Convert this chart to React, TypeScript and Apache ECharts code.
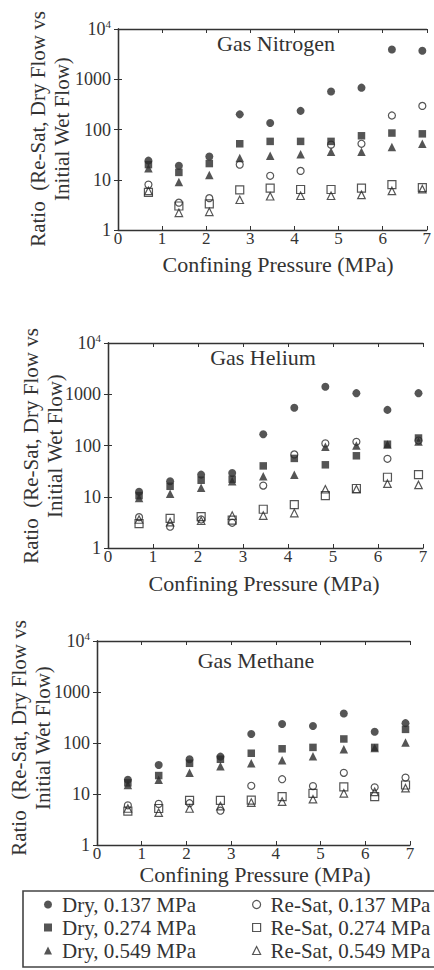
import React, { useEffect, useRef } from 'react';
import * as echarts from 'echarts';

// Confining pressure (MPa) at which the samples were measured
const pressure = [0.69, 1.38, 2.07, 2.76, 3.45, 4.14, 4.83, 5.52, 6.21, 6.9];

const seriesNames = [
  'Dry, 0.137 MPa',
  'Dry, 0.274 MPa',
  'Dry, 0.549 MPa',
  'Re-Sat, 0.137 MPa',
  'Re-Sat, 0.274 MPa',
  'Re-Sat, 0.549 MPa',
];

const gasTitles = ['Gas Nitrogen', 'Gas Helium', 'Gas Methane'];

// Gas Nitrogen
const n2Dry137 = [24, 19, 29, 200, 135, 235, 570, 680, 3900, 3700];
const n2Dry274 = [20, 14, 21, 52, 58, 58, 58, 75, 85, 82];
const n2Dry549 = [17, 9, 12.5, 27, 30, 32, 36, 36, 45, 52];
const n2Re137 = [8, 3.5, 4.3, 20, 12, 15, 50, 52, 190, 295];
const n2Re274 = [5.6, 3, 3.3, 6.3, 6.8, 6.4, 6.4, 6.8, 8, 7];
const n2Re549 = [6, 2.2, 2.3, 4, 4.7, 4.8, 4.8, 5, 6, 6.5];

// Gas Helium
const heDry137 = [12.5, 20, 27, 29, 166, 545, 1400, 1050, 495, 1050];
const heDry274 = [10.5, 16, 21, 22, 40, 56, 42, 63, 106, 140];
const heDry549 = [9.5, 11.5, 15, 20, 25, 27, 95, 100, 105, 120];
const heRe137 = [4, 2.6, 3.6, 3.1, 16.5, 67, 110, 118, 55, 125];
const heRe274 = [3, 3.8, 4.1, 3.5, 5.7, 7, 10.5, 14.5, 24, 27];
const heRe549 = [3.6, 3.2, 3.4, 4.3, 4.3, 4.8, 14, 14, 18, 17];

// Gas Methane
const ch4Dry137 = [19, 37, 48, 54, 150, 235, 215, 380, 166, 245];
const ch4Dry274 = [16.5, 23, 40, 48, 63, 77, 82, 120, 82, 185];
const ch4Dry549 = [15, 19, 26, 35, 40, 46, 55, 75, 80, 102];
const ch4Re137 = [6, 6.4, 6.6, 4.7, 14.5, 19.5, 14.3, 26, 13.5, 21];
const ch4Re274 = [4.6, 5.2, 7.5, 7.5, 7.6, 8.9, 10.3, 13.8, 8.9, 15];
const ch4Re549 = [5.2, 4.3, 5.2, 5.8, 6.8, 7.1, 7.9, 10.3, 11, 13];

const panels = [
  [n2Dry137, n2Dry274, n2Dry549, n2Re137, n2Re274, n2Re549],
  [heDry137, heDry274, heDry549, heRe137, heRe274, heRe549],
  [ch4Dry137, ch4Dry274, ch4Dry549, ch4Re137, ch4Re274, ch4Re549],
];

const xAxisTitle = 'Confining Pressure (MPa)';
const yAxisTitle = 'Ratio  (Re-Sat, Dry Flow vs\nInitial Wet Flow)';

const FONT = "'Liberation Serif', 'Times New Roman', serif";
const INK = '#333';

const grids = [
  { left: 118, top: 29, width: 310, height: 201 },
  { left: 108, top: 343, width: 315, height: 205 },
  { left: 97, top: 641, width: 313, height: 204 },
];

const titlePos = [
  { x: 276, y: 43 },
  { x: 263, y: 357 },
  { x: 256, y: 660 },
];
const xTitlePos = [
  { x: 278, y: 264 },
  { x: 264, y: 583 },
  { x: 255, y: 874 },
];
const yTitlePos = [
  { x: 50, y: 129 },
  { x: 43, y: 446 },
  { x: 31, y: 738 },
];

const markers = [
  { symbol: 'circle', size: 8, filled: true },
  { symbol: 'rect', size: 7.5, filled: true },
  { symbol: 'triangle', size: 8.5, filled: true },
  { symbol: 'circle', size: 7, filled: false },
  { symbol: 'rect', size: 8, filled: false },
  { symbol: 'triangle', size: 7.5, filled: false },
];

export default function App() {
  const ref = useRef<HTMLDivElement>(null);

  useEffect(() => {
    if (!ref.current) return;
    const chart = echarts.init(ref.current, undefined, { renderer: 'svg' });

    const xAxes: any[] = [];
    const yAxes: any[] = [];
    const series: any[] = [];
    const graphics: any[] = [];

    grids.forEach((g, p) => {
      xAxes.push({
        type: 'value',
        gridIndex: p,
        min: 0,
        max: 7,
        interval: 1,
        position: 'bottom',
        axisLine: { show: true, lineStyle: { color: INK, width: 1.3 } },
        axisTick: { show: true, inside: true, length: 4, lineStyle: { color: INK } },
        axisLabel: { show: true, margin: 0, fontSize: 17, fontFamily: FONT, color: INK },
        splitLine: { show: false },
      });
      xAxes.push({
        type: 'value',
        gridIndex: p,
        min: 0,
        max: 7,
        interval: 1,
        position: 'top',
        axisLine: { show: true, lineStyle: { color: INK, width: 1.3 } },
        axisTick: { show: true, inside: true, length: 4, lineStyle: { color: INK } },
        axisLabel: { show: false },
        splitLine: { show: false },
      });
      yAxes.push({
        type: 'log',
        logBase: 10,
        gridIndex: p,
        min: 1,
        max: 10000,
        position: 'left',
        axisLine: { show: true, lineStyle: { color: INK, width: 1.3 } },
        axisTick: { show: true, inside: true, length: 4, lineStyle: { color: INK } },
        axisLabel: {
          show: true,
          margin: 7,
          fontSize: 18,
          fontFamily: FONT,
          color: INK,
          formatter: (v: number) => {
            const r = Math.round(v);
            return r === 10000 ? '{b|10}{s|4}' : String(r);
          },
          rich: {
            b: { fontSize: 18, fontFamily: FONT, color: INK },
            s: { fontSize: 11, fontFamily: FONT, color: INK, padding: [0, 0, 10, 0] },
          },
        },
        splitLine: { show: false },
      });
      yAxes.push({
        type: 'log',
        logBase: 10,
        gridIndex: p,
        min: 1,
        max: 10000,
        position: 'right',
        axisLine: { show: true, lineStyle: { color: INK, width: 1.3 } },
        axisTick: { show: true, inside: true, length: 4, lineStyle: { color: INK } },
        axisLabel: { show: false },
        splitLine: { show: false },
      });

      panels[p].forEach((vals, s) => {
        const m = markers[s];
        series.push({
          type: 'scatter',
          name: seriesNames[s],
          xAxisIndex: p * 2,
          yAxisIndex: p * 2,
          symbol: m.symbol,
          symbolSize: m.size,
          symbolKeepAspect: true,
          data: pressure.map((x, i) => [x, vals[i]]),
          itemStyle: m.filled
            ? { color: '#2a2a2a' }
            : { color: 'rgba(255,255,255,0)', borderColor: '#2a2a2a', borderWidth: 1.2 },
          z: m.filled ? 2 : 3,
        });
      });

      const textBase = {
        fontFamily: FONT,
        fill: INK,
        align: 'center',
        verticalAlign: 'middle',
        textAlign: 'center',
        textVerticalAlign: 'middle',
      };

      graphics.push({
        type: 'text',
        x: titlePos[p].x,
        y: titlePos[p].y,
        style: { ...textBase, text: gasTitles[p], fontSize: 22 },
      });
      graphics.push({
        type: 'text',
        x: xTitlePos[p].x,
        y: xTitlePos[p].y,
        style: { ...textBase, text: xAxisTitle, fontSize: 22 },
      });
      graphics.push({
        type: 'text',
        x: yTitlePos[p].x,
        y: yTitlePos[p].y,
        rotation: Math.PI / 2,
        style: { ...textBase, text: yAxisTitle, fontSize: 21, lineHeight: 24 },
      });
    });

    graphics.push({
      type: 'rect',
      shape: { x: 23, y: 891, width: 430, height: 76 },
      style: { fill: 'none', stroke: '#444', lineWidth: 1.6 },
      silent: true,
    });

    const legendText = { fontSize: 21, fontFamily: FONT, color: INK, padding: [0, 0, 0, 5] };

    chart.setOption({
      animation: false,
      backgroundColor: '#fff',
      grid: grids.map((g) => ({ ...g, containLabel: false })),
      xAxis: xAxes,
      yAxis: yAxes,
      series,
      graphic: graphics,
      legend: [
        {
          data: seriesNames.slice(0, 3),
          orient: 'vertical',
          left: 44,
          top: 894,
          itemGap: 2,
          itemWidth: 8,
          itemHeight: 8,
          padding: 0,
          textStyle: legendText,
          itemStyle: { borderWidth: 0 },
          selectedMode: false,
        },
        {
          data: seriesNames.slice(3),
          orient: 'vertical',
          left: 252,
          top: 894,
          itemGap: 2,
          itemWidth: 8,
          itemHeight: 8,
          padding: 0,
          textStyle: legendText,
          itemStyle: { borderWidth: 1.2 },
          selectedMode: false,
        },
      ],
    });

    return () => {
      chart.dispose();
    };
  }, []);

  return (
    <div
      ref={ref}
      style={{ position: 'absolute', left: 0, top: 0, width: 434, height: 970, background: '#fff' }}
    />
  );
}
